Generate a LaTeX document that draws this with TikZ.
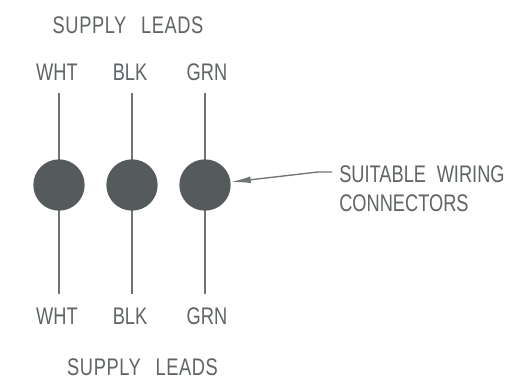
\documentclass[tikz,border=0pt]{standalone}
\usepackage{fontspec}
\setmainfont[FakeStretch=0.76]{Liberation Sans}
\usetikzlibrary{arrows.meta}
\definecolor{ink}{RGB}{85,90,92}
\definecolor{txt}{RGB}{95,100,102}
\tikzset{
 lbl/.style={text=txt,font=\fontsize{18}{21}\selectfont,inner sep=0pt,anchor=base},
 wide/.style={font=\fontsize{18}{21}\selectfont\addfontfeature{LetterSpace=2.5}},
 wire/.style={draw=ink!85,line width=1pt},
 conn/.style={circle,fill=ink,draw=none,minimum size=38.5pt,inner sep=0pt}
}
\begin{document}
\begin{tikzpicture}[x=0.75pt,y=-0.75pt]
\useasboundingbox (0,0) rectangle (517,379);
\fill[white] (0,0) rectangle (517,379);
\node[lbl,wide] (st) at (128,33) {SUPPLY\hspace{11pt}LEADS};
\node[lbl,wide] (sb) at (142.5,375) {SUPPLY\hspace{11pt}LEADS};
\node[lbl] (t1) at (57,80.5) {WHT};
\node[lbl] (t2) at (130,80.5) {BLK};
\node[lbl] (t3) at (207,80.5) {GRN};
\node[lbl] (b1) at (57,324) {WHT};
\node[lbl] (b2) at (130,324) {BLK};
\node[lbl] (b3) at (207,324) {GRN};
\coordinate (a1) at (59,93);\coordinate (a2) at (132,93);\coordinate (a3) at (205,93);
\coordinate (d1) at (59,294);\coordinate (d2) at (132,294);\coordinate (d3) at (205,294);
\foreach \i in {1,2,3}{\draw[wire] (a\i) -- (d\i);}
\node[conn] (c1) at (59,185) {};
\node[conn] (c2) at (132,185) {};
\node[conn] (c3) at (205,185) {};
\node[lbl,anchor=base west] (lab1) at (339,182) {SUITABLE\hspace{8pt}WIRING};
\node[lbl,anchor=base west] (lab2) at (339,211) {CONNECTORS};
\coordinate (k) at (332,172);
\coordinate (j) at (318,172);
\draw[wire,-{Latex[length=15pt,width=5pt]}] (k) -- (j) -- (c3);
\end{tikzpicture}
\end{document}
